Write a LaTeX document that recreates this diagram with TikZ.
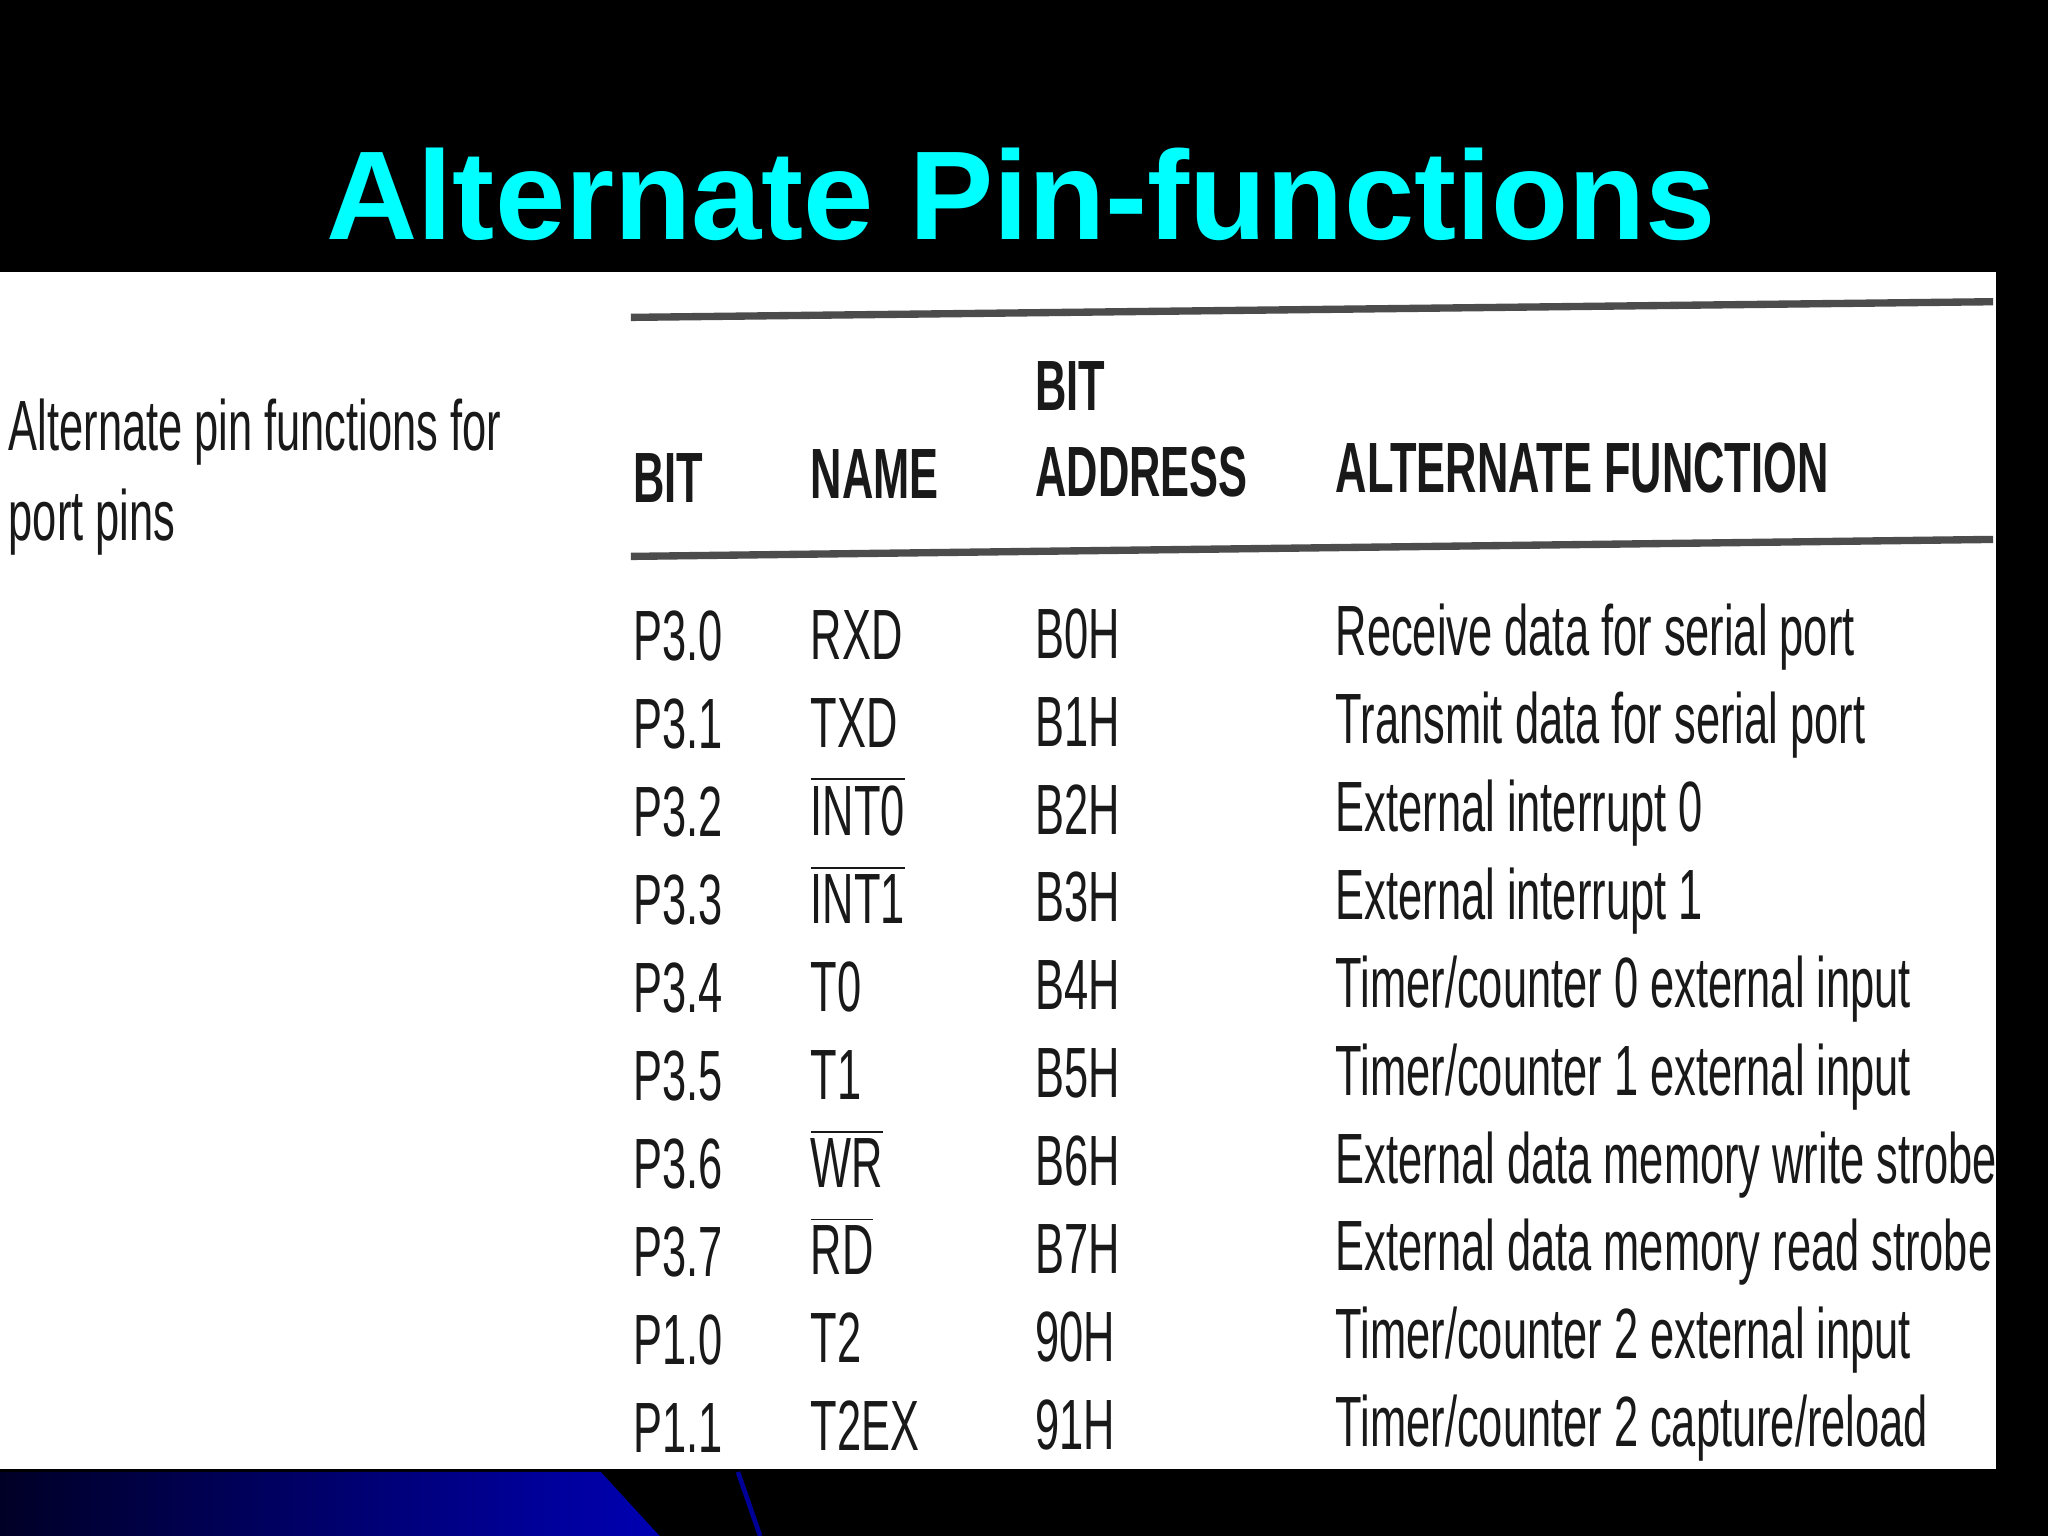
\documentclass[tikz,border=0pt]{standalone}
\usepackage{fontspec}
\setmainfont{Liberation Sans}
\newfontfamily\cond[FakeStretch=0.61]{Liberation Sans}
\definecolor{ttl}{RGB}{0,255,255}
\begin{document}
\begin{tikzpicture}[x=0.01cm,y=-0.01cm,
  cell/.style={anchor=base west,inner sep=0pt,font=\cond\fontsize{15.5pt}{17pt}\selectfont,text=black!90},
  head/.style={cell,font=\cond\bfseries\fontsize{15.5pt}{17pt}\selectfont},
  rulel/.style={line width=1.6pt,black!70}]
\fill[black] (0,0) rectangle (1568,1176);
\useasboundingbox (0,0) rectangle (1568,1176);
\fill[white] (0,208) rectangle (1528,1125);
\shade[left color=blue!15!black,right color=blue!70!black] (0,1127) -- (460,1127) -- (505,1176) -- (0,1176) -- cycle;
\draw[blue!60!black,line width=1pt] (565,1127) -- (582,1176);
\node[anchor=base,inner sep=0pt,text=ttl,font=\bfseries\fontsize{27.5pt}{30pt}\selectfont] (title) at (782,183) {Alternate Pin-functions};
\node[cell,align=left,anchor=north west,font=\cond\fontsize{15.5pt}{19.5pt}\selectfont] (cap) at (6,305) {Alternate pin functions for\\port pins};
\coordinate (t1) at (483,243); \coordinate (t2) at (1526,231);
\coordinate (m1) at (483,426); \coordinate (m2) at (1526,413);
\draw[rulel] (t1) -- (t2);
\draw[rulel] (m1) -- (m2);
\node[head] (h1) at (484,385) {BIT};
\node[head] (h2) at (620,382) {NAME};
\node[head] (h3a) at (792,314) {BIT};
\node[head] (h3) at (792,380) {ADDRESS};
\node[head] (h4) at (1022,377) {ALTERNATE FUNCTION};
\foreach \b/\n/\a/\f [count=\i from 0] in {
 P3.0/RXD/B0H/Receive data for serial port,
 P3.1/TXD/B1H/Transmit data for serial port,
 P3.2/$\overline{\mbox{INT0}}$/B2H/External interrupt 0,
 P3.3/$\overline{\mbox{INT1}}$/B3H/External interrupt 1,
 P3.4/T0/B4H/Timer\slash counter 0 external input,
 P3.5/T1/B5H/Timer\slash counter 1 external input,
 P3.6/$\overline{\mbox{WR}}$/B6H/External data memory write strobe,
 P3.7/$\overline{\mbox{RD}}$/B7H/External data memory read strobe,
 P1.0/T2/90H/Timer\slash counter 2 external input,
 P1.1/T2EX/91H/Timer\slash counter 2 capture\slash reload}{
 \pgfmathsetmacro\yy{506+67.3*\i}
 \node[cell] (b\i) at (484,\yy) {\b};
 \node[cell] (n\i) at (620,\yy-1) {\n};
 \node[cell] (a\i) at (792,\yy-2) {\a};
 \node[cell] (f\i) at (1022,\yy-4) {\f};
}
\end{tikzpicture}
\end{document}
